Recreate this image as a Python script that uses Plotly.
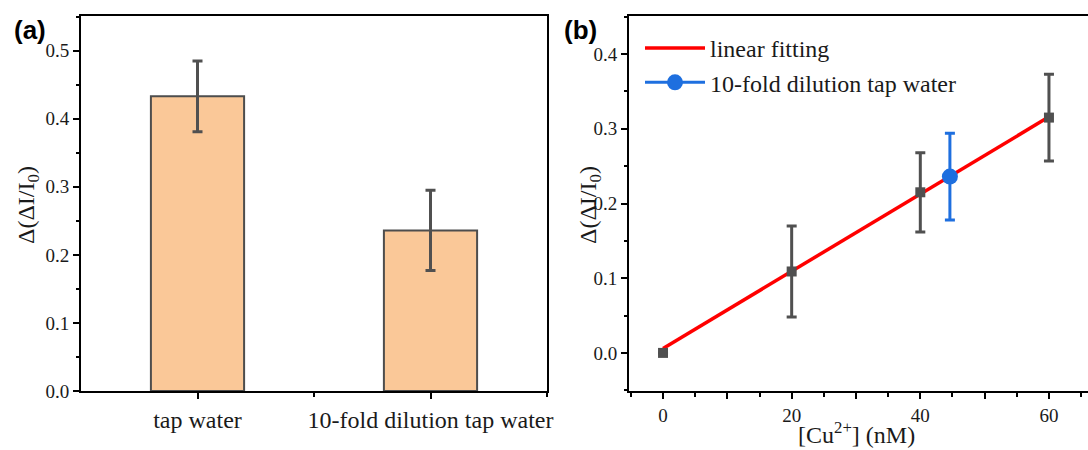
import plotly.graph_objects as go

# ---------------- data ----------------
# Panel (a)
bar_categories = ["tap water", "10-fold dilution tap water"]
bar_pos = [0, 1]
bar_values = [0.433, 0.236]
bar_errors = [0.052, 0.059]

# Panel (b)
cu_conc = [0, 20, 40, 60]
cu_response = [0.0, 0.109, 0.215, 0.315]
cu_errors = [0.0, 0.061, 0.053, 0.058]
fit_x = [0, 60]
fit_y = [0.006, 0.316]
sample_x = [44.6]
sample_y = [0.236]
sample_err = [0.058]

SERIF = "Liberation Serif"
W, H = 1088, 450

fig = go.Figure()

fig.add_trace(go.Bar(
    x=bar_pos, y=bar_values, width=0.4,
    marker=dict(color="#FAC898", line=dict(color="#4d4d4d", width=2)),
    error_y=dict(type="data", array=bar_errors, color="#505050", thickness=3, width=5),
    xaxis="x", yaxis="y", showlegend=False,
))

fig.add_trace(go.Scatter(
    x=fit_x, y=fit_y, mode="lines", name="linear fitting",
    line=dict(color="#FF0000", width=3.5),
    xaxis="x2", yaxis="y2",
))
fig.add_trace(go.Scatter(
    x=cu_conc, y=cu_response, mode="markers", showlegend=False,
    marker=dict(symbol="square", size=10, color="#505050"),
    error_y=dict(type="data", array=cu_errors, color="#505050", thickness=3, width=5),
    xaxis="x2", yaxis="y2",
))
fig.add_trace(go.Scatter(
    x=sample_x, y=sample_y, mode="lines+markers", name="10-fold dilution tap water",
    marker=dict(symbol="circle", size=16, color="#1E6FDF"),
    line=dict(color="#1E6FDF", width=3),
    error_y=dict(type="data", array=sample_err, color="#1E6FDF", thickness=3, width=5),
    xaxis="x2", yaxis="y2",
))

axis_common = dict(showline=True, linecolor="black", linewidth=2, showgrid=False,
                   zeroline=False, ticks="outside", ticklen=6, tickwidth=2, tickcolor="black",
                   automargin=False)

fig.update_layout(
    width=W, height=H,
    margin=dict(l=0, r=0, t=0, b=0, autoexpand=False),
    paper_bgcolor="white", plot_bgcolor="white",
    font=dict(family=SERIF, color="#1a1a1a"),
    xaxis=dict(axis_common, domain=[81 / W, 547 / W], range=[-0.5, 1.5], mirror=True,
               tickmode="array", tickvals=bar_pos, ticktext=bar_categories,
               tickfont=dict(family=SERIF, size=24, color="#1a1a1a"),
               minor=dict(tickmode="array", tickvals=[0.5, 1.5], ticks="outside", ticklen=4,
                          tickwidth=2, tickcolor="black"),
               anchor="y"),
    yaxis=dict(axis_common, domain=[1 - 391 / H, 1 - 16 / H], range=[0, 0.551], mirror=True,
               dtick=0.1, tick0=0, tickformat=".1f",
               tickfont=dict(family=SERIF, size=19, color="#1a1a1a"),
               minor=dict(dtick=0.05, ticks="outside", ticklen=3.5, tickwidth=2, tickcolor="black"),
               anchor="x"),
    xaxis2=dict(axis_common, domain=[629 / W, 1.0], range=[-5.29, 66.07], mirror=True,
                tickmode="linear", tick0=0, dtick=10, ticklabelstep=2,
                tickfont=dict(family=SERIF, size=19, color="#1a1a1a"),
                minor=dict(tick0=5, dtick=10, ticks="outside",
                           ticklen=3.5, tickwidth=2, tickcolor="black"),
                anchor="y2"),
    yaxis2=dict(axis_common, domain=[1 - 391 / H, 1 - 16 / H], range=[-0.051, 0.451], mirror=False,
                dtick=0.1, tick0=0, tickformat=".1f",
                tickfont=dict(family=SERIF, size=19, color="#1a1a1a"),
                minor=dict(dtick=0.05, ticks="outside", ticklen=3.5, tickwidth=2, tickcolor="black"),
                anchor="x2"),
    legend=dict(x=640 / W, y=1 - 26 / H, xanchor="left", yanchor="top",
                font=dict(family=SERIF, size=24, color="#1a1a1a"),
                bgcolor="rgba(0,0,0,0)", itemwidth=60, tracegroupgap=0),
)

annotations = [
    dict(text="<b>(a)</b>", x=12 / W, y=1 - 30 / H, xref="paper", yref="paper",
         xanchor="left", yanchor="middle", showarrow=False,
         font=dict(family="Liberation Sans", size=26, color="black")),
    dict(text="<b>(b)</b>", x=562 / W, y=1 - 30 / H, xref="paper", yref="paper",
         xanchor="left", yanchor="middle", showarrow=False,
         font=dict(family="Liberation Sans", size=26, color="black")),
    dict(text="Δ(ΔI/I<sub>0</sub>)", x=28 / W, y=1 - 205 / H, xref="paper", yref="paper",
         xanchor="center", yanchor="middle", textangle=-90, showarrow=False,
         font=dict(family=SERIF, size=24, color="#1a1a1a")),
    dict(text="Δ(ΔI/I<sub>0</sub>)", x=590 / W, y=1 - 205 / H, xref="paper", yref="paper",
         xanchor="center", yanchor="middle", textangle=-90, showarrow=False,
         font=dict(family=SERIF, size=24, color="#1a1a1a")),
    dict(text="[Cu<sup>2+</sup>] (nM)", x=856 / W, y=1 - 433 / H, xref="paper", yref="paper",
         xanchor="center", yanchor="middle", showarrow=False,
         font=dict(family=SERIF, size=24, color="#1a1a1a")),
]
fig.update_layout(annotations=annotations)

fig.write_html("out.html")
